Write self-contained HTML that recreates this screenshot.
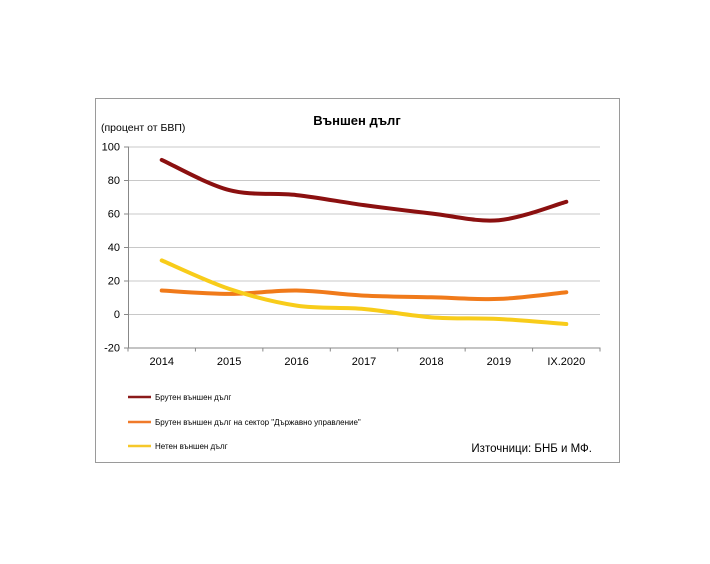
<!DOCTYPE html>
<html><head><meta charset="utf-8"><style>
body{margin:0;background:#fff;width:710px;height:559px;overflow:hidden}
svg{font-family:"Liberation Sans",sans-serif}
</style></head><body>
<svg id="s" width="710" height="559" xmlns="http://www.w3.org/2000/svg">
<rect x="95.5" y="98.5" width="524" height="364" fill="#fff" stroke="#9a9a9a" stroke-width="1"/>
<text x="357" y="125" text-anchor="middle" font-size="13" font-weight="bold" fill="#000">Външен дълг</text>
<text x="101" y="131" font-size="10.5" fill="#000">(процент от БВП)</text>
<g id="grid" stroke="#c8c8c8" stroke-width="1"></g>
<g id="lab" font-size="11" fill="#000"></g>
<g id="ser" fill="none" stroke-width="4" stroke-linecap="round"></g>
<g font-size="8" fill="#000">
<line x1="128" y1="397" x2="151" y2="397" stroke="#8b1a1a" stroke-width="2.5"/>
<text x="155" y="400">Брутен външен дълг</text>
<line x1="128" y1="422" x2="151" y2="422" stroke="#f07a2a" stroke-width="2.5"/>
<text x="155" y="425">Брутен външен дълг на сектор "Държавно управление"</text>
<line x1="128" y1="446" x2="151" y2="446" stroke="#f6c82a" stroke-width="2.5"/>
<text x="155" y="449">Нетен външен дълг</text>
</g>
<text x="592" y="452" text-anchor="end" font-size="11.5" fill="#000">Източници: БНБ и МФ.</text>
</svg>
<script>
var ns="http://www.w3.org/2000/svg";
function el(p,t,a,tx){var e=document.createElementNS(ns,t);for(var k in a)e.setAttribute(k,a[k]);if(tx)e.textContent=tx;document.getElementById(p).appendChild(e);}
var L=128,R=600,dx=67.43;
function Y(v){return 314-v*1.675;}
for(var v=-20;v<=100;v+=20){var y=Y(v);el('grid','line',{x1:L,x2:R,y1:y+.5,y2:y+.5,stroke:v==-20?'#888':'#c8c8c8'});
el('grid','line',{x1:L-4,x2:L,y1:y+.5,y2:y+.5,stroke:'#888'});
el('lab','text',{x:L-8,y:y+4,'text-anchor':'end'},String(v));}
el('grid','line',{x1:L+.5,x2:L+.5,y1:Y(100),y2:Y(-20),stroke:'#888'});
var cats=['2014','2015','2016','2017','2018','2019','IX.2020'];
for(var i=0;i<=7;i++){el('grid','line',{x1:L+i*dx,x2:L+i*dx,y1:Y(-20),y2:Y(-20)+4,stroke:'#888'});}
cats.forEach(function(c,i){el('lab','text',{x:L+dx/2+i*dx,y:365,'text-anchor':'middle'},c);});
var S=[[[92,74,71,65,60,56,67],'#8b1010'],[[14,12,14,11,10,9,13],'#f07a1a'],[[32,15,5,3,-2,-3,-6],'#f8cc1a']];
S.forEach(function(s){var p=s[0].map(function(v,i){return [L+dx/2+i*dx,Y(v)];});
var d='M'+p[0];for(var i=0;i<p.length-1;i++){var p0=p[i-1]||p[i],p1=p[i],p2=p[i+1],p3=p[i+2]||p2;
var t=6;d+=' C'+(p1[0]+(p2[0]-p0[0])/t)+','+(p1[1]+(p2[1]-p0[1])/t)+' '+(p2[0]-(p3[0]-p1[0])/t)+','+(p2[1]-(p3[1]-p1[1])/t)+' '+p2;}
el('ser','path',{d:d,stroke:s[1]});});
</script>
</body></html>
